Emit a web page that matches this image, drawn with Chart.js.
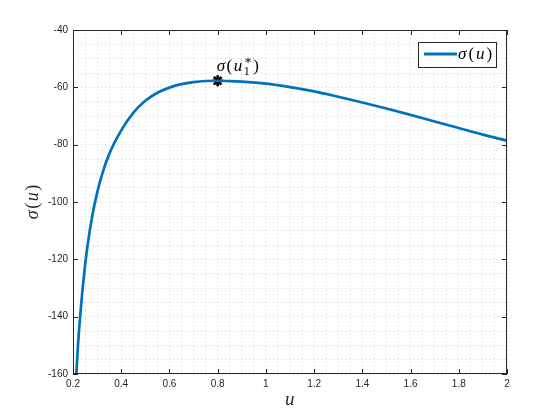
<!DOCTYPE html>
<html lang="en">
<head>
    <meta charset="UTF-8">
    <title>sigma(u)</title>
    <script src="https://cdn.jsdelivr.net/npm/chart.js"></script>
    <style>
        body {
            margin: 0;
            background-color: white;
        }
        .container {
            width: 560px;
            height: 420px;
        }
    </style>
</head>
<body>
    <div class="container">
        <canvas id="sigmaChart" width="560" height="420"></canvas>
    </div>

    <script>
        // curve
        const uValues = [0.214, 0.22, 0.23, 0.24, 0.25, 0.26, 0.28, 0.30, 0.32, 0.35,
                         0.40, 0.45, 0.50, 0.55, 0.60, 0.65, 0.70, 0.75, 0.80, 0.85,
                         0.90, 1.0, 1.1, 1.2, 1.3, 1.4, 1.5, 1.6, 1.7, 1.8, 1.9, 2.0];
        const sigmaValues = [-160, -150.8, -139.5, -130.1, -122.1, -115.4, -104.8, -96.8, -90.5, -83.3,
                             -75.0, -68.9, -64.7, -61.9, -60.1, -58.9, -58.2, -57.8, -57.7, -57.8,
                             -58.0, -58.7, -59.9, -61.4, -63.3, -65.3, -67.4, -69.6, -71.9, -74.2, -76.5, -78.6];
        // optimum marker
        const optimumU = [0.8];
        const optimumSigma = [-57.7];
        // axis ranges / ticks
        const xMajorTicks = [0.2, 0.4, 0.6, 0.8, 1, 1.2, 1.4, 1.6, 1.8, 2];
        const yMajorTicks = [-40, -60, -80, -100, -120, -140, -160];
        const xMinorStep = 0.05;
        const yMinorStep = 5;

        const axisColor = '#262626';
        const curveColor = '#0072BD';
        const serif = '"Liberation Serif", "DejaVu Serif", serif';

        // draw a small latex-like expression; parts: {t, i} or {sub, sup}
        function mathWidth(ctx, parts, size, gap) {
            let w = 0;
            for (const p of parts) {
                if (p.sub !== undefined) {
                    ctx.font = Math.round(size * 0.7) + 'px ' + serif;
                    w += Math.max(ctx.measureText(p.sub).width, ctx.measureText(p.sup).width) + gap;
                } else {
                    ctx.font = (p.i ? 'italic ' : '') + size + 'px ' + serif;
                    w += ctx.measureText(p.t).width + gap;
                }
            }
            return w - gap;
        }

        function drawMath(ctx, parts, x, y, size, gap) {
            let cx = x;
            ctx.textBaseline = 'alphabetic';
            ctx.textAlign = 'left';
            for (const p of parts) {
                if (p.sub !== undefined) {
                    ctx.font = Math.round(size * 0.7) + 'px ' + serif;
                    ctx.fillText(p.sub, cx, y + size * 0.25);
                    ctx.fillText(p.sup, cx, y - size * 0.42);
                    cx += Math.max(ctx.measureText(p.sub).width, ctx.measureText(p.sup).width) + gap;
                } else {
                    ctx.font = (p.i ? 'italic ' : '') + size + 'px ' + serif;
                    ctx.fillText(p.t, cx, y);
                    cx += ctx.measureText(p.t).width + gap;
                }
            }
        }

        const sigmaU = [{t: 'σ', i: true}, {t: '(', i: false}, {t: 'u', i: true}, {t: ')', i: false}];
        const sigmaU1 = [{t: 'σ', i: true}, {t: '(', i: false}, {t: 'u', i: true},
                         {sub: '1', sup: '∗'}, {t: ')', i: false}];

        const isMajor = (v, step) => Math.abs(v / step - Math.round(v / step)) < 1e-6;

        const decor = {
            id: 'decor',
            afterDraw(chart) {
                const ctx = chart.ctx;
                const area = chart.chartArea;
                const xs = chart.scales.x;
                const ys = chart.scales.y;
                ctx.save();

                // box and inward ticks
                ctx.strokeStyle = axisColor;
                ctx.lineWidth = 1;
                ctx.strokeRect(area.left + 0.5, area.top + 0.5, area.right - area.left - 1, area.bottom - area.top - 1);
                ctx.beginPath();
                xMajorTicks.forEach(v => {
                    const px = Math.round(xs.getPixelForValue(v)) + 0.5;
                    ctx.moveTo(px, area.bottom);
                    ctx.lineTo(px, area.bottom - 5);
                    ctx.moveTo(px, area.top);
                    ctx.lineTo(px, area.top + 5);
                });
                yMajorTicks.forEach(v => {
                    const py = Math.round(ys.getPixelForValue(v)) + 0.5;
                    ctx.moveTo(area.left, py);
                    ctx.lineTo(area.left + 5, py);
                    ctx.moveTo(area.right, py);
                    ctx.lineTo(area.right - 5, py);
                });
                ctx.stroke();

                ctx.fillStyle = '#000';
                // label of the optimum
                const pt = chart.getDatasetMeta(1).data[0];
                drawMath(ctx, sigmaU1, pt.x - 1, pt.y - 10, 17, 1.5);

                // legend
                const lx = area.right - 89, ly = area.top + 12;
                ctx.fillStyle = 'white';
                ctx.fillRect(lx, ly, 78, 25);
                ctx.strokeStyle = axisColor;
                ctx.strokeRect(lx + 0.5, ly + 0.5, 78, 25);
                ctx.strokeStyle = curveColor;
                ctx.lineWidth = 3;
                ctx.beginPath();
                ctx.moveTo(lx + 6, ly + 12);
                ctx.lineTo(lx + 39, ly + 12);
                ctx.stroke();
                ctx.fillStyle = '#000';
                drawMath(ctx, sigmaU, lx + 40, ly + 17, 17, 2);

                // axis titles
                ctx.fillStyle = axisColor;
                drawMath(ctx, [{t: 'u', i: true}], (area.left + area.right) / 2 - 5, 405, 19, 0);
                ctx.translate(38, (area.top + area.bottom) / 2);
                ctx.rotate(-Math.PI / 2);
                const w = mathWidth(ctx, sigmaU, 18, 1.5);
                drawMath(ctx, sigmaU, -w / 2, 0, 18, 1.5);
                ctx.restore();
            }
        };

        const gridOpts = {
            color: 'rgba(38, 38, 38, 0.2)',
            lineWidth: 1,
            drawTicks: false
        };

        const ctx = document.getElementById('sigmaChart').getContext('2d');
        const sigmaChart = new Chart(ctx, {
            type: 'line',
            data: {
                datasets: [{
                    label: 'σ(u)',
                    data: uValues.map((u, i) => ({x: u, y: sigmaValues[i]})),
                    borderColor: curveColor,
                    borderWidth: 2.7,
                    pointRadius: 0,
                    cubicInterpolationMode: 'monotone',
                    fill: false
                }, {
                    label: 'optimum',
                    data: optimumU.map((u, i) => ({x: u, y: optimumSigma[i]})),
                    showLine: false,
                    pointStyle: 'star',
                    pointRadius: 5.5,
                    borderColor: '#000',
                    backgroundColor: '#000',
                    borderWidth: 2.6
                }]
            },
            options: {
                responsive: false,
                animation: false,
                layout: {
                    padding: {top: 30, right: 53, left: 0, bottom: 0}
                },
                plugins: {
                    legend: {display: false},
                    tooltip: {enabled: false}
                },
                scales: {
                    x: {
                        type: 'linear',
                        min: 0.2,
                        max: 2,
                        grid: gridOpts,
                        border: {display: false, dash: [1, 3]},
                        afterFit: scale => { scale.height = 46; },
                        ticks: {
                            stepSize: xMinorStep,
                            autoSkip: false,
                            maxRotation: 0,
                            minRotation: 0,
                            padding: 4,
                            color: axisColor,
                            font: {family: '"Liberation Sans", Arial, sans-serif', size: 10},
                            callback: v => isMajor(v, 0.2) ? String(Math.round(v * 10) / 10) : ''
                        }
                    },
                    y: {
                        min: -160,
                        max: -40,
                        grid: gridOpts,
                        border: {display: false, dash: [1, 3]},
                        afterFit: scale => { scale.width = 73; },
                        ticks: {
                            stepSize: yMinorStep,
                            autoSkip: false,
                            padding: 5,
                            color: axisColor,
                            font: {family: '"Liberation Sans", Arial, sans-serif', size: 10},
                            callback: v => isMajor(v, 20) ? String(Math.round(v)) : ''
                        }
                    }
                }
            },
            plugins: [decor]
        });
    </script>
</body>
</html>
